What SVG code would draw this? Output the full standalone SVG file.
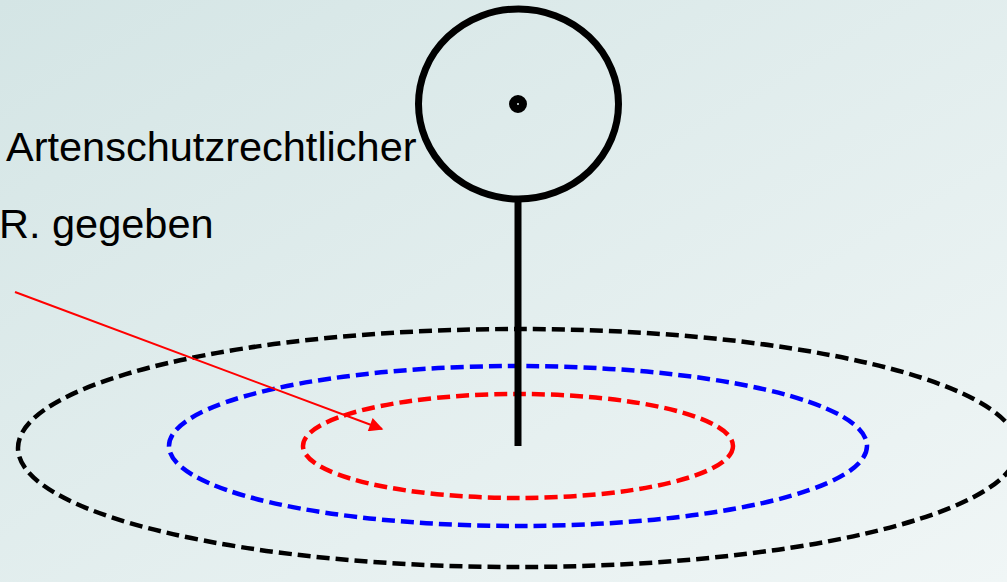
<svg xmlns="http://www.w3.org/2000/svg" width="1007" height="582" viewBox="0 0 1007 582">
<defs>
<linearGradient id="bg" x1="0" y1="0" x2="1" y2="1">
<stop offset="0" stop-color="#d4e5e5"/>
<stop offset="1" stop-color="#f0f6f6"/>
</linearGradient>
<marker id="arr" viewBox="0 0 10 10" refX="9" refY="5" markerWidth="7.5" markerHeight="7" orient="auto" markerUnits="strokeWidth">
<path d="M0,0 L10,5 L0,10 z" fill="#ff0000"/>
</marker>
<style>
.lbl{font-family:"Liberation Sans",Arial,sans-serif;font-size:41.5px;fill:#000}
.ring{fill:none;stroke-width:4.5;stroke-dasharray:13 6}
</style>
</defs>
<rect width="1007" height="582" fill="url(#bg)"/>
<g id="labels">
<text class="lbl" x="6" y="161">Artenschutzrechtlicher</text>
<text class="lbl" x="-1" y="238">R. gegeben</text>
</g>
<g id="zone-outer"><ellipse class="ring" cx="518" cy="448" rx="500" ry="119" stroke="#000"/></g>
<g id="zone-middle"><ellipse class="ring" cx="518" cy="446" rx="349" ry="80" stroke="#0000ff"/></g>
<g id="zone-inner"><ellipse class="ring" cx="518" cy="446" rx="215" ry="52" stroke="#ff0000"/></g>
<g id="sign">
<line x1="518" y1="198" x2="518" y2="446" stroke="#000" stroke-width="7"/>
<ellipse cx="518.5" cy="104" rx="100" ry="95" fill="none" stroke="#000" stroke-width="7"/>
<circle cx="518" cy="104" r="5" fill="none" stroke="#000" stroke-width="8"/>
</g>
<g id="connectors">
<line x1="15" y1="292" x2="382" y2="429" stroke="#ff0000" stroke-width="2" marker-end="url(#arr)"/>
</g>
</svg>
